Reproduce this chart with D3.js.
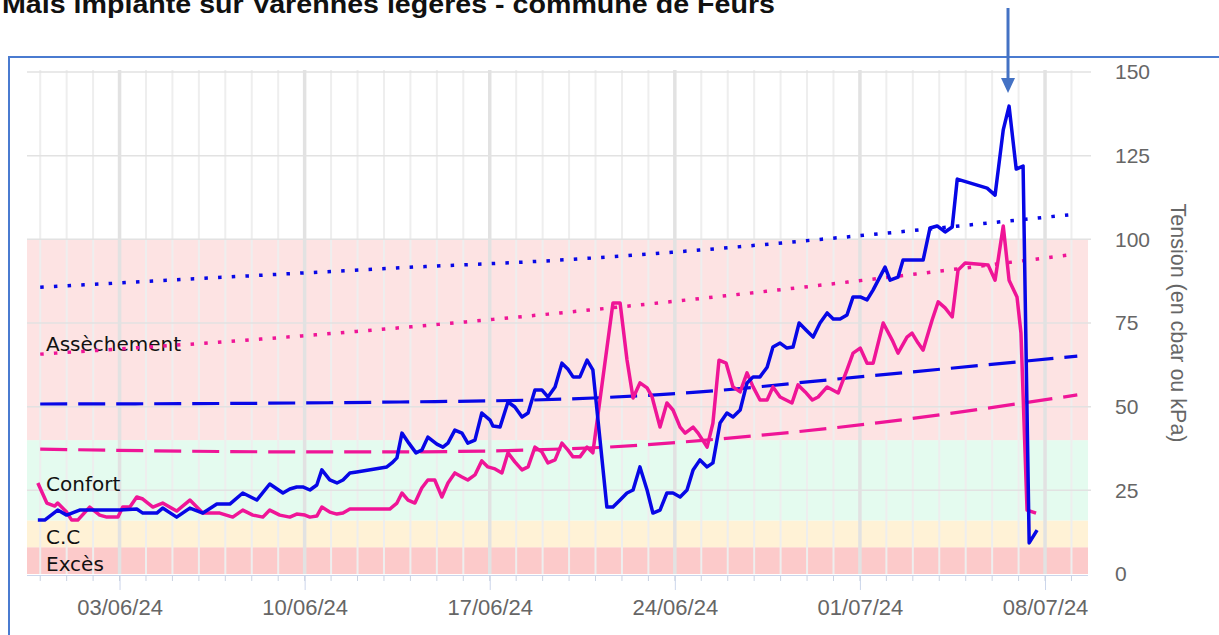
<!DOCTYPE html>
<html>
<head>
<meta charset="utf-8">
<script src="https://cdn.jsdelivr.net/npm/d3@7"></script>
<style>
  html, body { margin: 0; padding: 0; background: #ffffff; overflow: hidden; }
  svg { display: block; }
</style>
</head>
<body>
<svg id="chart" width="1219" height="635"></svg>
<script>
// ---------- DATA ----------
const chartTitle = "Maïs implanté sur Varennes légères - commune de Feurs";
const yTitle = "Tension (en cbar ou kPa)";
const yTickValues = [0, 25, 50, 75, 100, 125, 150];
const dateFormat = "%d/%m/%y";
// Time of each reading, in days after 31/05/2024 00:00
const blueDays = [-0.09,0.17,0.66,1.00,1.49,2.36,3.01,3.65,3.88,4.41,4.63,5.16,5.66,6.15,6.68,7.17,7.66,8.19,8.68,9.18,
  9.44,9.70,9.93,10.20,10.46,10.65,10.95,11.22,11.45,11.71,11.97,13.11,13.30,13.49,13.68,13.94,14.21,14.43,14.66,15.00,
  15.23,15.42,15.68,15.95,16.17,16.44,16.70,17.01,17.12,17.39,17.69,17.95,18.22,18.45,18.71,18.97,19.20,19.47,19.73,19.96,
  20.15,20.41,20.68,20.90,21.43,21.66,21.93,22.19,22.42,22.68,22.95,23.17,23.44,23.70,23.93,24.20,24.46,24.69,24.95,25.22,
  25.44,25.71,25.97,26.20,26.47,26.73,26.96,27.22,27.49,27.71,27.98,28.24,28.47,28.70,28.96,29.23,29.49,29.76,29.99,30.25,
  30.51,30.74,31.01,31.27,31.50,31.95,32.14,32.44,32.63,33.39,33.65,33.92,34.22,34.49,34.68,35.81,36.11,36.42,36.64,36.91,
  37.17,37.40,37.70];
const blueValues = [16.1,16.1,19.1,17.6,19.1,19.1,19.1,19.4,18.2,18.2,19.7,17.0,19.7,18.2,20.9,20.9,24.2,22.1,26.9,24.2,
  25.4,26.0,26.0,25.1,26.6,31.1,28.1,27.2,28.1,30.2,30.5,32.0,33.2,34.7,42.1,39.1,36.2,37.0,40.9,38.8,
  37.9,39.1,43.0,42.1,39.1,40.0,48.1,46.0,44.2,43.9,51.4,49.9,46.9,48.1,55.0,55.0,52.9,55.9,63.0,61.2,
  58.9,58.9,63.9,61.0,20.0,20.0,22.1,24.2,25.1,32.0,25.1,18.2,19.1,24.2,24.2,23.0,25.1,31.1,34.1,32.0,
  33.2,45.1,48.1,46.9,49.0,57.1,58.9,58.9,61.8,67.8,69.0,67.5,67.8,75.0,72.9,70.8,75.0,78.0,76.2,76.2,
  77.4,82.8,82.8,81.9,84.9,91.7,87.8,88.7,93.8,93.8,103.4,104.0,102.2,103.7,118.0,115.3,113.2,132.7,139.8,121.0,
  121.9,9.3,13.1];
const pinkDays = [-0.09,0.25,0.55,0.66,1.00,1.19,1.42,1.87,2.25,2.52,2.94,3.12,3.39,3.65,3.88,4.26,4.63,5.16,5.66,6.15,
  6.79,7.28,7.66,8.04,8.42,8.68,9.06,9.44,9.70,10.01,10.20,10.46,10.65,10.95,11.22,11.45,11.71,13.22,13.49,13.68,
  13.91,14.17,14.43,14.66,14.92,15.19,15.42,15.68,15.95,16.17,16.44,16.70,16.93,17.20,17.46,17.69,17.95,18.22,18.45,18.71,
  18.97,19.20,19.47,19.73,19.96,20.15,20.41,20.68,20.90,21.66,21.93,22.19,22.42,22.68,22.95,23.14,23.44,23.70,23.93,24.20,
  24.39,24.69,24.88,25.22,25.44,25.67,25.94,26.20,26.47,26.73,26.96,27.22,27.49,27.71,27.98,28.43,28.66,28.93,29.20,29.42,
  29.76,30.18,30.51,30.74,31.01,31.27,31.50,31.88,32.22,32.44,32.78,32.97,33.20,33.39,33.73,33.96,34.22,34.49,34.71,34.98,
  35.85,36.11,36.42,36.64,36.94,37.09,37.32,37.66];
const pinkValues = [27.2,21.2,20.3,21.2,18.5,16.1,16.1,20.0,17.6,17.0,17.0,20.0,20.0,23.0,22.4,20.0,21.2,18.8,22.1,18.2,
  18.2,17.0,19.1,17.6,17.0,19.1,17.6,17.0,17.9,17.6,17.0,17.3,20.0,18.5,17.9,18.2,19.4,19.4,21.2,24.2,
  22.1,21.2,25.7,28.1,28.1,23.0,27.2,30.2,29.0,28.1,29.6,33.8,32.0,31.4,30.2,36.2,33.5,31.1,32.0,37.9,
  36.5,33.2,34.1,39.1,37.0,35.0,35.0,37.9,36.2,81.0,81.0,64.0,52.6,57.1,55.6,52.9,43.9,51.1,49.0,43.9,
  42.1,43.9,42.1,37.9,45.1,63.9,63.0,55.9,54.4,60.1,55.9,52.0,52.0,55.9,52.9,51.1,56.5,54.4,52.0,52.9,
  55.9,54.1,61.0,66.0,67.5,63.0,63.0,75.0,69.9,66.0,70.8,72.0,69.0,66.9,75.9,81.3,79.5,76.8,90.8,92.9,
  92.3,87.8,104.0,87.8,82.8,72.0,19.1,18.2];
// Reference curves (days after 31/05/2024, value)
const blueDottedDays = [0, 9.82, 13.6, 19.66, 24.95, 30.06, 38.88];
const blueDottedValues = [85.7, 89.9, 91.5, 93.8, 96.8, 100.4, 107.3];
const pinkDottedDays = [0, 9.82, 19.66, 25.3, 30.18, 38.88];
const pinkDottedValues = [65.7, 71.1, 78.0, 82.6, 86.9, 95.3];
const blueDashedDays = [0, 9.82, 13.6, 19.96, 24.95, 30.06, 39.22];
const blueDashedValues = [50.8, 51.1, 51.4, 52.3, 54.4, 58.2, 65.1];
const pinkDashedDays = [0, 9.82, 13.6, 21.43, 25.6, 30.06, 39.22];
const pinkDashedValues = [37.3, 36.5, 36.5, 37.9, 40.3, 43.7, 53.5];
// Zones
const zoneNames = ["Excès", "C.C", "Confort", "Assèchement"];
const zoneFrom = [0, 8, 16, 40];
const zoneTo = [8, 16, 40, 100];
const zoneColors = ["#fccaca", "#fff2d6", "#e4fbef", "#fde3e3"];
const arrowDay = 36.6;

// ---------- CHART ----------
const svg = d3.select("#chart");
const startMs = Date.UTC(2024, 4, 31);
const toDate = d => new Date(startMs + d * 864e5);

const pL = 27, pR = 1088, pT = 72, pB = 574;
const x = d3.scaleUtc()
  .domain([new Date(Date.UTC(2024, 4, 30, 12)), new Date(Date.UTC(2024, 6, 9, 15))])
  .range([pL, pR]);
const y = d3.scaleLinear().domain([0, 150]).range([pB, pT]);

// Frame
svg.append("path")
  .attr("d", `M9,635 L9,57 L1219,57`)
  .attr("fill", "none").attr("stroke", "#4a7bd0").attr("stroke-width", 2);

// Title (cut off at top, as in the source)
svg.append("text")
  .attr("x", 2).attr("y", 13)
  .attr("font-family", "Liberation Sans, Arial, sans-serif")
  .attr("font-weight", "bold").attr("font-size", 26)
  .attr("textLength", 773).attr("lengthAdjust", "spacingAndGlyphs")
  .attr("fill", "#111").text(chartTitle);

// Zones
svg.append("g").selectAll("rect").data(zoneNames).join("rect")
  .attr("x", pL).attr("width", pR - pL)
  .attr("y", (d, i) => y(zoneTo[i]))
  .attr("height", (d, i) => y(zoneFrom[i]) - y(zoneTo[i]))
  .attr("fill", (d, i) => zoneColors[i]);

// Vertical grid (daily and weekly)
const days = d3.utcDay.range(x.domain()[0], x.domain()[1]);
const weeks = d3.utcMonday.range(x.domain()[0], x.domain()[1]);
svg.append("g").selectAll("line").data(days).join("line")
  .attr("x1", d => x(d)).attr("x2", d => x(d))
  .attr("y1", pT - 2).attr("y2", pB)
  .attr("stroke", "#eeeeee").attr("stroke-width", 2);
svg.append("g").selectAll("line").data(weeks).join("line")
  .attr("x1", d => x(d)).attr("x2", d => x(d))
  .attr("y1", pT - 2).attr("y2", pB)
  .attr("stroke", "#e2e2e2").attr("stroke-width", 3.5);

// Horizontal grid
svg.append("g").selectAll("line").data(yTickValues.filter(v => v > 0)).join("line")
  .attr("x1", pL).attr("x2", pR + 3)
  .attr("y1", d => y(d)).attr("y2", d => y(d))
  .attr("stroke", "#e2e2e2").attr("stroke-width", 1.5);

// X axis
const xAxis = d3.axisBottom(x).tickValues(weeks).tickFormat(d3.utcFormat(dateFormat))
  .tickSize(15).tickPadding(4);
const gx = svg.append("g").attr("transform", `translate(0,${pB + 1})`).call(xAxis);
gx.select(".domain").attr("stroke", "#ccd6eb").attr("d", `M${pL},0.5H${pR}`);
gx.selectAll(".tick line").attr("stroke", "#ccd6eb");
gx.selectAll(".tick text").attr("fill", "#666").attr("font-size", 22)
  .attr("font-family", "Liberation Sans, Arial, sans-serif").attr("dy", "0.95em");
// minor day ticks
svg.append("g").selectAll("line").data(days).join("line")
  .attr("x1", d => x(d)).attr("x2", d => x(d))
  .attr("y1", pB + 2).attr("y2", pB + 7)
  .attr("stroke", "#c9d2e2").attr("stroke-width", 1);

// Y axis (right)
const yAxis = d3.axisRight(y).tickValues(yTickValues).tickSize(0).tickPadding(0);
const gy = svg.append("g").attr("transform", `translate(1115,0)`).call(yAxis);
gy.select(".domain").remove();
gy.selectAll(".tick text").attr("fill", "#666").attr("font-size", 21)
  .attr("font-family", "Liberation Sans, Arial, sans-serif");

svg.append("text")
  .attr("transform", `translate(1171,323) rotate(90)`)
  .attr("text-anchor", "middle")
  .attr("font-family", "Liberation Sans, Arial, sans-serif").attr("font-size", 21.5)
  .attr("fill", "#666").text(yTitle);

// Zone labels
svg.append("g").selectAll("text").data(zoneNames).join("text")
  .attr("x", 46)
  .attr("y", (d, i) => [571, 544, 491, 351][i])
  .attr("font-family", "DejaVu Sans, sans-serif").attr("font-size", 20)
  .attr("fill", "#111").text(d => d);

// Lines
const lineGen = d3.line().x(d => x(toDate(d[0]))).y(d => y(d[1]));
const smoothGen = d3.line().x(d => x(toDate(d[0]))).y(d => y(d[1])).curve(d3.curveMonotoneX);
const zip = (a, b) => a.map((d, i) => [d, b[i]]);

const blue = "#0707e6", pink = "#ef1597";

svg.append("path").datum(zip(blueDottedDays, blueDottedValues))
  .attr("d", smoothGen).attr("fill", "none").attr("stroke", blue)
  .attr("stroke-width", 3.5).attr("stroke-dasharray", "3.5,10.2");
svg.append("path").datum(zip(pinkDottedDays, pinkDottedValues))
  .attr("d", smoothGen).attr("fill", "none").attr("stroke", pink)
  .attr("stroke-width", 3.5).attr("stroke-dasharray", "3.5,10.2");
svg.append("path").datum(zip(blueDashedDays, blueDashedValues))
  .attr("d", smoothGen).attr("fill", "none").attr("stroke", blue)
  .attr("stroke-width", 3.2).attr("stroke-dasharray", "27,11");
svg.append("path").datum(zip(pinkDashedDays, pinkDashedValues))
  .attr("d", smoothGen).attr("fill", "none").attr("stroke", pink)
  .attr("stroke-width", 3.2).attr("stroke-dasharray", "27,11");

svg.append("path").datum(zip(pinkDays, pinkValues))
  .attr("d", lineGen).attr("fill", "none").attr("stroke", pink)
  .attr("stroke-width", 3.5).attr("stroke-linejoin", "round");
svg.append("path").datum(zip(blueDays, blueValues))
  .attr("d", lineGen).attr("fill", "none").attr("stroke", blue)
  .attr("stroke-width", 3.5).attr("stroke-linejoin", "round");

// Arrow
const ax = x(toDate(arrowDay));
svg.append("line").attr("x1", ax).attr("x2", ax).attr("y1", 8).attr("y2", 80)
  .attr("stroke", "#4472c4").attr("stroke-width", 3);
svg.append("path")
  .attr("d", `M${ax - 7},78 L${ax + 7},78 L${ax},93 Z`)
  .attr("fill", "#4472c4");
</script>
</body>
</html>
